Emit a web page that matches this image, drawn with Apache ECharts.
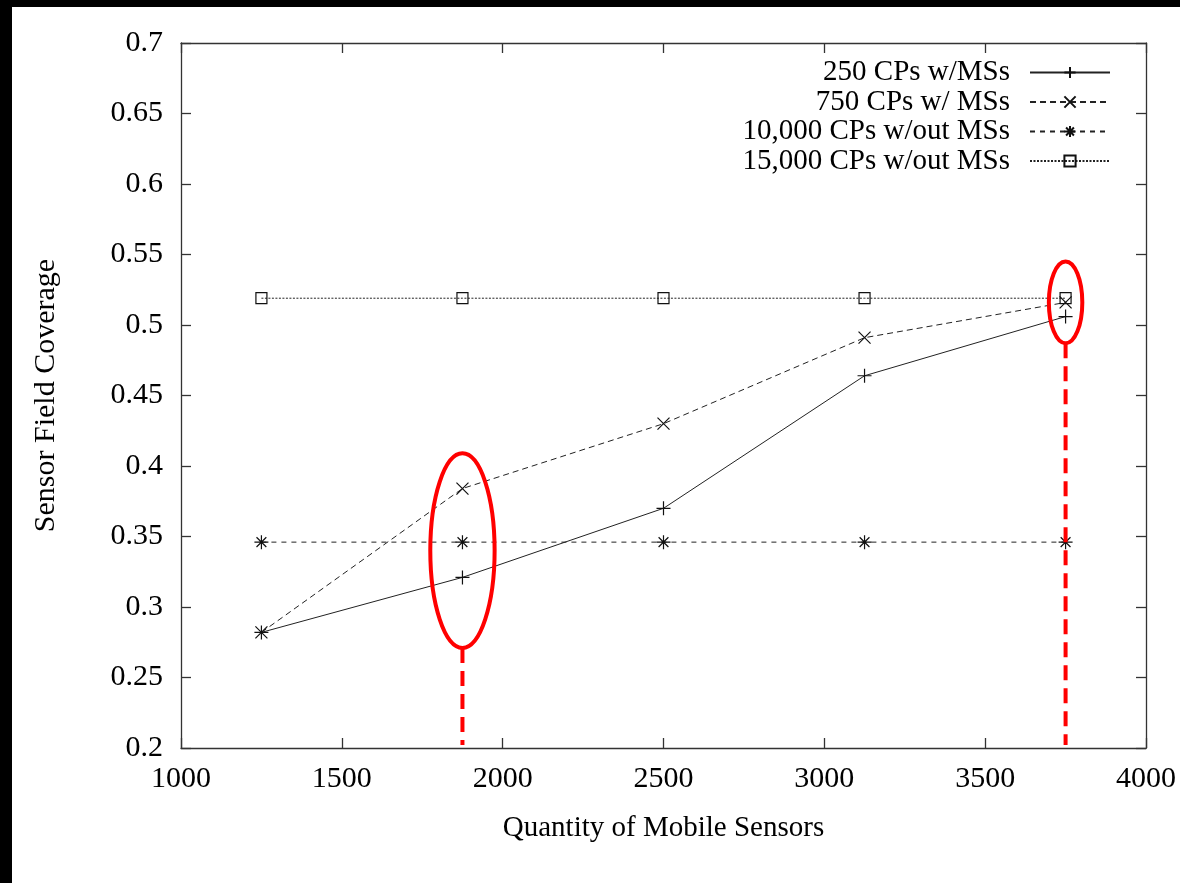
<!DOCTYPE html>
<html>
<head>
<meta charset="utf-8">
<script src="https://cdn.jsdelivr.net/npm/echarts@6/dist/echarts.min.js"></script>
<style>
  html, body { margin: 0; padding: 0; background: #000; }
  #chart { position: absolute; left: 12px; top: 7px; width: 1168px; height: 876px; background: #fff; }
</style>
</head>
<body>
<div id="chart"></div>
<script>
// data
var sensors = [1250, 1875, 2500, 3125, 3750];
var cp250 = [0.282, 0.321, 0.370, 0.464, 0.506];
var cp750 = [0.282, 0.384, 0.430, 0.491, 0.516];
var cp10000 = [0.346, 0.346, 0.346, 0.346, 0.346];
var cp15000 = [0.519, 0.519, 0.519, 0.519, 0.519];
var seriesNames = ['250 CPs w/MSs', '750 CPs w/ MSs', '10,000 CPs w/out MSs', '15,000 CPs w/out MSs'];

// red highlight ellipses: centre (x, y) and half extents in data units
var markX = [1875, 3750];
var markY = [0.340, 0.516];
var markHalfX = [100, 52];
var markHalfY = [0.069, 0.029];

var FONT = '"Liberation Serif", "Times New Roman", serif';

function pairs(ys) {
	return sensors.map(function (x, i) { return [x, ys[i]]; });
}

var symbols = {
	plus: 'path://M5,0V10M0,5H10',
	cross: 'path://M0,0L10,10M10,0L0,10',
	star: 'path://M5,0V10M0,5H10M1.5,1.5L8.5,8.5M8.5,1.5L1.5,8.5',
	square: 'path://M0,0H10V10H0Z'
};

function lineSeries(name, ys, symbol, size, dash) {
	return {
		name: name,
		type: 'line',
		data: pairs(ys),
		symbol: symbol,
		symbolSize: size,
		showAllSymbol: true,
		animation: false,
		color: '#000',
		lineStyle: { color: '#222', width: 1, type: dash },
		itemStyle: { color: 'rgba(0,0,0,0)', borderColor: '#111', borderWidth: 1.2 },
		emphasis: { disabled: true }
	};
}

var tickAxis = {
	axisLine: { show: true, lineStyle: { color: '#333', width: 1.3 } },
	axisTick: { show: true, inside: true, length: 10, lineStyle: { color: '#333', width: 1.3 } },
	splitLine: { show: false }
};

var chart = echarts.init(document.getElementById('chart'));

var option = {
	animation: false,
	backgroundColor: '#fff',
	grid: { left: 169, right: 34, top: 36, bottom: 135, show: false },
	legend: {
		orient: 'vertical',
		right: 64,
		top: 46,
		align: 'right',
		itemWidth: 80,
		itemHeight: 14,
		itemGap: 0.5,
		data: seriesNames,
		selectedMode: false,
		textStyle: {
			fontFamily: FONT, fontSize: 29, color: '#000',
			lineHeight: 28, padding: [0, 15, 0, 0]
		}
	},
	xAxis: [
		Object.assign({
			type: 'value', min: 1000, max: 4000, interval: 500,
			name: 'Quantity of Mobile Sensors', nameLocation: 'middle', nameGap: 66,
			nameTextStyle: { fontFamily: FONT, fontSize: 29, color: '#000' },
			axisLabel: {
				fontFamily: FONT, fontSize: 30, color: '#000', margin: 16,
				formatter: function (v) { return String(v); }
			}
		}, tickAxis),
		Object.assign({
			type: 'value', min: 1000, max: 4000, interval: 500, position: 'top',
			axisLabel: { show: false }
		}, tickAxis)
	],
	yAxis: [
		Object.assign({
			type: 'value', min: 0.2, max: 0.7, interval: 0.05,
			name: 'Sensor Field Coverage', nameLocation: 'middle', nameGap: 120,
			nameTextStyle: { fontFamily: FONT, fontSize: 30, color: '#000' },
			axisLabel: {
				fontFamily: FONT, fontSize: 30, color: '#000', margin: 18,
				formatter: function (v) { return String(+v.toFixed(2)); }
			}
		}, tickAxis),
		Object.assign({
			type: 'value', min: 0.2, max: 0.7, interval: 0.05, position: 'right',
			axisLabel: { show: false }
		}, tickAxis)
	],
	series: [
		lineSeries(seriesNames[0], cp250, symbols.plus, 14, 'solid'),
		lineSeries(seriesNames[1], cp750, symbols.cross, 12, [6, 4]),
		lineSeries(seriesNames[2], cp10000, symbols.star, 14, [5, 5]),
		lineSeries(seriesNames[3], cp15000, symbols.square, 11, [2, 1.5]),
		{
			type: 'custom',
			name: 'highlight',
			animation: false,
			silent: true,
			z: 10,
			data: markX.map(function (x, i) { return [x, markY[i], markHalfX[i], markHalfY[i]]; }),
			renderItem: function (params, api) {
				var c = api.coord([api.value(0), api.value(1)]);
				var edge = api.coord([api.value(0) + api.value(2), api.value(1) + api.value(3)]);
				var base = api.coord([api.value(0), 0.2]);
				var rx = Math.abs(edge[0] - c[0]);
				var ry = Math.abs(c[1] - edge[1]);
				return {
					type: 'group',
					children: [{
						type: 'ellipse',
						shape: { cx: c[0], cy: c[1], rx: rx, ry: ry },
						style: { fill: 'none', stroke: '#f00', lineWidth: 4 }
					}, {
						type: 'line',
						shape: { x1: c[0], y1: c[1] + ry, x2: c[0], y2: base[1] - 3 },
						style: { stroke: '#f00', lineWidth: 4, lineDash: [15, 8] }
					}]
				};
			}
		}
	]
};

chart.setOption(option);
</script>
</body>
</html>
